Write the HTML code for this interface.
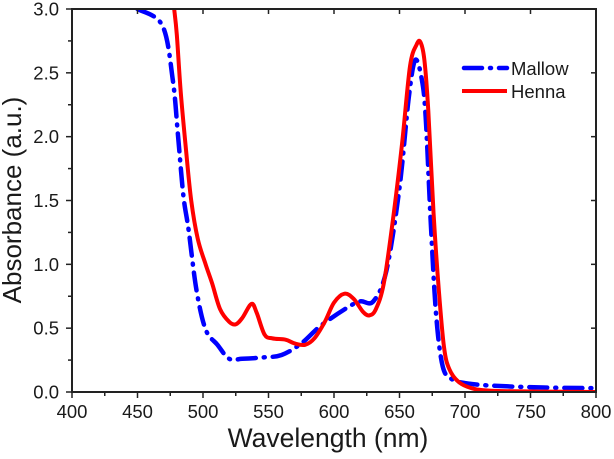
<!DOCTYPE html>
<html><head><meta charset="utf-8"><style>
body{margin:0;background:#fff}
svg text{font-family:"Liberation Sans",sans-serif;fill:#1a1a1a}
</style></head><body>
<svg id="c" width="614" height="454"></svg>
<script>
const xTicks=[400,450,500,550,600,650,700,750,800];
const yTicks=[0,0.5,1,1.5,2,2.5,3];
const yTickLabels=["0.0","0.5","1.0","1.5","2.0","2.5","3.0"];
const mallowX=[450,469,477,481,485,489,495,502,511,520,530,545,560,575,590,610,620,630,640,650,657,662,667,670,674,678,683,690,700,720,760,800];
const mallowY=[3.0,2.87,2.44,2.0,1.54,1.27,0.8,0.49,0.37,0.26,0.26,0.27,0.29,0.38,0.52,0.66,0.71,0.71,0.95,1.6,2.3,2.6,2.45,2.15,1.3,0.6,0.2,0.1,0.07,0.05,0.035,0.03];
const hennaX=[478,480,483,487,491,496,502,507,513,520,525,530,537,541,547,553,563,570,578,585,593,600,608,615,622,627,632,638,645,652,658,663,666,669,672,676,680,684,688,695,705,720,760,800];
const hennaY=[3.0,2.8,2.35,1.9,1.5,1.2,1.0,0.85,0.65,0.55,0.53,0.58,0.69,0.62,0.45,0.42,0.41,0.38,0.37,0.42,0.55,0.7,0.77,0.73,0.63,0.6,0.65,0.85,1.35,1.95,2.55,2.72,2.74,2.6,2.2,1.4,0.8,0.35,0.18,0.08,0.03,0.01,0.003,0.0];
const L=72,R=596,T=9,B=392;
const sx=v=>L+(v-400)/400*(R-L), sy=v=>B-v/3*(B-T);
const svg=document.getElementById('c'),NS='http://www.w3.org/2000/svg';
function mk(t,a,p){const e=document.createElementNS(NS,t);for(const k in a)e.setAttribute(k,a[k]);(p||svg).appendChild(e);return e;}
function path(xs,ys){const p=xs.map((x,i)=>[sx(x),sy(ys[i])]);let d='M'+p[0];for(let i=0;i<p.length-1;i++){const p0=p[i-1]||p[i],p1=p[i],p2=p[i+1],p3=p[i+2]||p2;
const c1=[p1[0]+(p2[0]-p0[0])/6,p1[1]+(p2[1]-p0[1])/6],c2=[p2[0]-(p3[0]-p1[0])/6,p2[1]-(p3[1]-p1[1])/6];d+='C'+c1+' '+c2+' '+p2;}return d;}
mk('clipPath',{id:'cp'}).appendChild(document.createElementNS(NS,'rect'));
const cr=svg.querySelector('#cp rect');cr.setAttribute('x',L);cr.setAttribute('y',T);cr.setAttribute('width',R-L);cr.setAttribute('height',B-T);
const m=mk('path',{d:path(mallowX,mallowY),fill:'none',stroke:'#0000ff','stroke-width':4.5,'stroke-dasharray':'18 8 1 8','stroke-linecap':'round','clip-path':'url(#cp)'});


const h=mk('path',{d:path(hennaX,hennaY),fill:'none',stroke:'#ff0000','stroke-width':4,'clip-path':'url(#cp)'});


const fr=mk('rect',{x:L,y:T,width:R-L,height:B-T,fill:'none',stroke:'#222','stroke-width':2});


xTicks.forEach((v,i)=>{mk('line',{x1:sx(v),x2:sx(v),y1:B,y2:B+6,stroke:'#222','stroke-width':1.5});
if(i<xTicks.length-1){const mx=sx(v+25);mk('line',{x1:mx,x2:mx,y1:B,y2:B+4,stroke:'#222','stroke-width':1.5});}
mk('line',{x1:sx(v),x2:sx(v),y1:T,y2:T+5,stroke:'#222','stroke-width':1.5});
const t=mk('text',{x:sx(v),y:B+26,'text-anchor':'middle','font-size':18.5});t.textContent=v;

});
yTicks.forEach((v,i)=>{mk('line',{x1:L-6,x2:L,y1:sy(v),y2:sy(v),stroke:'#222','stroke-width':1.5});
if(i<yTicks.length-1){mk('line',{x1:L-4,x2:L,y1:sy(v+0.25),y2:sy(v+0.25),stroke:'#222','stroke-width':1.5});}
mk('line',{x1:R-5,x2:R,y1:sy(v),y2:sy(v),stroke:'#222','stroke-width':1.5});
const t=mk('text',{x:L-13,y:sy(v)+6.5,'text-anchor':'end','font-size':18.5});t.textContent=yTickLabels[i];

});
const xt=mk('text',{x:328,y:447,'text-anchor':'middle','font-size':26.5});xt.textContent='Wavelength (nm)';


const yt=mk('text',{x:0,y:0,'text-anchor':'middle','font-size':26,transform:`translate(21,200) rotate(-90)`});yt.textContent='Absorbance (a.u.)';


const lg=mk('g',{});


mk('line',{x1:464,x2:507,y1:68,y2:68,stroke:'#0000ff','stroke-width':4.5,'stroke-dasharray':'18 8 1 8','stroke-linecap':'round'},lg);
const t1=mk('text',{x:511,y:75,'font-size':18.5},lg);t1.textContent='Mallow';


mk('line',{x1:462,x2:507,y1:91,y2:91,stroke:'#ff0000','stroke-width':4},lg);
const t2=mk('text',{x:511,y:98,'font-size':18.5},lg);t2.textContent='Henna';


</script>
</body></html>
